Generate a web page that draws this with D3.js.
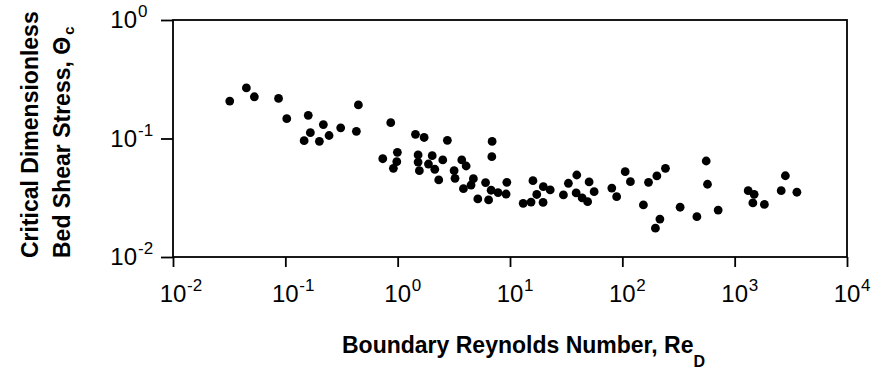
<!DOCTYPE html>
<html>
<head>
<meta charset="utf-8">
<script src="https://cdn.jsdelivr.net/npm/d3@7"></script>
<style>
  body { margin: 0; background: #fff; }
  text { font-family: "Liberation Sans", Arial, Helvetica, sans-serif; fill: #000; }
</style>
</head>
<body>
<div id="chart"></div>
<script>
// Size of the drawing and the plot frame
const width = 873;
const height = 374;
const margin = {top: 20, right: 26, bottom: 117, left: 173};

// Boundary Reynolds number, Re_D
const reynolds = [
  0.032, 0.045, 0.053, 0.087, 0.103, 0.160, 0.218, 0.167, 0.147, 0.201,
  0.245, 0.311, 0.429, 0.447, 0.868, 0.737, 0.994, 0.982, 0.916, 1.44,
  1.72, 2.77, 1.52, 1.52, 1.56, 1.88, 2.03, 2.14, 2.32, 2.52,
  3.72, 4.07, 3.18, 3.24, 4.72, 4.50, 3.85, 6.06, 5.17, 6.45,
  6.79, 7.83, 9.37, 9.23, 6.93, 6.89, 16.0, 13.1, 15.4, 17.3,
  19.8, 22.8, 19.7, 29.9, 33.1, 39.3, 38.8, 43.9, 49.1, 50.6,
  56.1, 80.6, 89.0, 106, 118, 154, 171, 203, 242, 216,
  197, 327, 461, 558, 573, 713, 1319, 1491, 1452, 1839,
  2595, 2828, 3580
];

// Critical dimensionless bed shear stress, theta_c (same order)
const shields = [
  0.207, 0.267, 0.225, 0.218, 0.147, 0.157, 0.131, 0.112, 0.0958, 0.0947,
  0.106, 0.123, 0.115, 0.192, 0.136, 0.0675, 0.0765, 0.0637, 0.0560, 0.1085,
  0.102, 0.0966, 0.0726, 0.0633, 0.0535, 0.0609, 0.0716, 0.0550, 0.0447, 0.0659,
  0.0659, 0.0586, 0.0535, 0.0461, 0.0458, 0.0405, 0.0377, 0.0425, 0.0309, 0.0303,
  0.0366, 0.0350, 0.0427, 0.0340, 0.0944, 0.0702, 0.0441, 0.0284, 0.0291, 0.0337,
  0.0392, 0.0368, 0.0289, 0.0334, 0.0419, 0.0492, 0.0347, 0.0315, 0.0293, 0.0430,
  0.0356, 0.0382, 0.0323, 0.0525, 0.0432, 0.0275, 0.0427, 0.0483, 0.0560, 0.0209,
  0.0175, 0.0263, 0.0219, 0.0646, 0.0411, 0.0249, 0.0363, 0.0338, 0.0286, 0.0278,
  0.0363, 0.0485, 0.0352
];

// Tick values and the exponents printed next to "10"
const xTicks = [1e-2, 1e-1, 1e0, 1e1, 1e2, 1e3, 1e4];
const xExponents = ["-2", "-1", "0", "1", "2", "3", "4"];
const yTicks = [1e-2, 1e-1, 1e0];
const yExponents = ["-2", "-1", "0"];

const data = reynolds.map((d, i) => ({re: d, theta: shields[i]}));

const x = d3.scaleLog()
    .domain([1e-2, 1e4])
    .range([margin.left, width - margin.right]);

const y = d3.scaleLog()
    .domain([1e-2, 1e0])
    .range([height - margin.bottom, margin.top]);

const svg = d3.select("#chart").append("svg")
    .attr("width", width)
    .attr("height", height);

// frame round the plot
svg.append("rect")
    .attr("x", x(1e-2))
    .attr("y", y(1e0))
    .attr("width", x(1e4) - x(1e-2))
    .attr("height", y(1e-2) - y(1e0))
    .attr("fill", "none")
    .attr("stroke", "#000")
    .attr("stroke-width", 1.8);

// axes: only the outward tick marks, labels are drawn by hand below
const xAxis = svg.append("g")
    .attr("transform", `translate(0,${y(1e-2)})`)
    .call(d3.axisBottom(x).tickValues(xTicks).tickSize(10).tickFormat(""));

const yAxis = svg.append("g")
    .attr("transform", `translate(${x(1e-2)},0)`)
    .call(d3.axisLeft(y).tickValues(yTicks).tickSize(12).tickFormat(""));

[xAxis, yAxis].forEach(g => {
    g.select(".domain").remove();
    g.selectAll(".tick line").attr("stroke", "#000").attr("stroke-width", 1.8);
});

// x tick labels: "10" centred on the tick, exponent raised to the right
const xLab = svg.append("g");
xTicks.forEach((t, i) => {
    xLab.append("text")
        .attr("x", x(t))
        .attr("y", 302)
        .attr("text-anchor", "middle")
        .attr("font-size", 24)
        .text("10");
    xLab.append("text")
        .attr("x", x(t) + 14)
        .attr("y", 291)
        .attr("font-size", 17)
        .text(xExponents[i]);
});

// y tick labels
const yLab = svg.append("g");
yTicks.forEach((t, i) => {
    yLab.append("text")
        .attr("x", 137)
        .attr("y", y(t) + 8)
        .attr("text-anchor", "end")
        .attr("font-size", 24)
        .text("10");
    yLab.append("text")
        .attr("x", 138)
        .attr("y", y(t) - 3)
        .attr("font-size", 17)
        .text(yExponents[i]);
});

// x axis title
const xTitle = svg.append("text")
    .attr("x", 342)
    .attr("y", 353)
    .attr("font-size", 23)
    .attr("font-weight", "bold");
xTitle.append("tspan").text("Boundary Reynolds Number, Re");
xTitle.append("tspan").attr("dy", 14).attr("font-size", 16).text("D");

// y axis title, two lines
svg.append("text")
    .attr("transform", "translate(38,258) rotate(-90)")
    .attr("font-size", 23)
    .attr("font-weight", "bold")
    .text("Critical Dimensionless");

const yTitle = svg.append("text")
    .attr("transform", "translate(70,258) rotate(-90)")
    .attr("font-size", 23)
    .attr("font-weight", "bold");
yTitle.append("tspan").text("Bed Shear Stress, \u0398");
yTitle.append("tspan").attr("dx", 2).attr("dy", 4).attr("font-size", 15).text("c");

// data points
svg.append("g")
    .selectAll("circle")
    .data(data)
    .enter()
    .append("circle")
    .attr("cx", d => x(d.re))
    .attr("cy", d => y(d.theta))
    .attr("r", 4.4)
    .attr("fill", "#000");
</script>
</body>
</html>
